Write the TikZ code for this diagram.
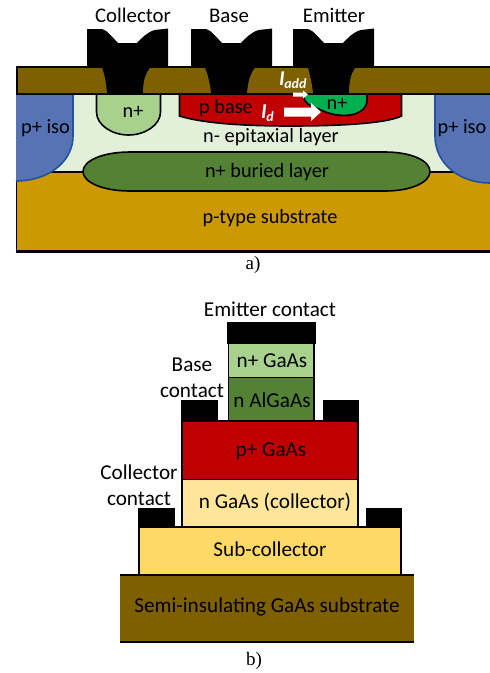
\documentclass[tikz,border=0pt]{standalone}
\usepackage{fontspec}
\setmainfont{Liberation Serif}
\newfontfamily\calfont{Carlito}
\definecolor{brownlayer}{HTML}{7F6000}
\definecolor{epi}{HTML}{E2F0D9}
\definecolor{lightgreen}{HTML}{A9D18E}
\definecolor{darkgreen}{HTML}{548235}
\definecolor{basered}{HTML}{C00000}
\definecolor{emgreen}{HTML}{00B050}
\definecolor{isoblue}{HTML}{5573B5}
\definecolor{isoedge}{HTML}{2350A0}
\definecolor{subgold}{HTML}{CC9900}
\definecolor{palegold}{HTML}{FFE699}
\definecolor{gold}{HTML}{FFD966}
\tikzset{
  lbl/.style={font=\calfont\fontsize{20.3}{24}\selectfont,text=black,inner sep=0pt,align=center},
  lbltop/.style={font=\calfont\fontsize{20.8}{24}\selectfont,text=black,inner sep=0pt,align=center},
  lblb/.style={font=\calfont\fontsize{21.2}{24}\selectfont,text=black,inner sep=0pt,align=center},
  captxt/.style={font=\fontsize{19}{22}\selectfont,inner sep=0pt},
  curlbl/.style={font=\calfont\bfseries\itshape\fontsize{21}{24}\selectfont,text=white,inner sep=0pt,anchor=base west},
  regionedge/.style={draw=black,line width=1.6pt},
  layerbox/.style={draw=black,line width=1.9pt},
  isoregion/.style={fill=isoblue,draw=isoedge,line width=1.6pt},
  whitearrow/.style={fill=white,draw=none}
}
\newcommand{\contactshape}[1]{
  \fill[black] (#1,66) -- (#1,29) -- (#1+15,29) .. controls (#1+20,30) and (#1+26,38) .. (#1+31,43) -- (#1+50,43)
   .. controls (#1+55,38) and (#1+60,32) .. (#1+68,30) -- (#1+81,28.5) -- (#1+81,66) -- cycle;
}
\begin{document}
\begin{tikzpicture}[x=1pt,y=-1pt]
\useasboundingbox (0,0) rectangle (490,673);
% ---- part a ----
\fill[epi] (16,94) rectangle (490,172);
\fill[subgold] (16,172) rectangle (490,252);
\draw[regionedge] (16,172) -- (490,172);
\draw[line width=2.2pt] (15.5,251.5) -- (490,251.5);
\draw[line width=1.5pt] (16.5,172) -- (16.5,252);
% iso regions
\draw[isoregion] (16,94) -- (73,94) -- (73,136) .. controls (73,162) and (48,181) .. (16,181);
\draw[isoregion] (490,94) -- (435,94) -- (435,136) .. controls (435,164) and (460,183) .. (490,183);
% buried
\draw[regionedge,fill=darkgreen] (130,152) -- (385,152) .. controls (412,152) and (430,161) .. (430,171.5) .. controls (430,182) and (412,191) .. (385,191) -- (130,191) .. controls (102,191) and (83,182) .. (83,171.5) .. controls (83,161) and (102,152) .. (130,152) -- cycle;
% collector n+
\draw[regionedge,fill=lightgreen] (96.5,94) -- (96.5,112) .. controls (96.5,125) and (112,135) .. (128.5,135) .. controls (145,135) and (160.5,125) .. (160.5,112) -- (160.5,94);
% p base
\draw[regionedge,fill=basered] (179.5,94) -- (179.5,116) .. controls (205,124) and (250,126) .. (290,126) .. controls (335,126) and (385,124) .. (401.5,116) -- (401.5,94);
% emitter n+
\draw[regionedge,fill=emgreen] (304,95) .. controls (303,103) and (310,106) .. (319,109) .. controls (328,114) and (338,115.5) .. (345,115.5) .. controls (357,115) and (367,110) .. (367,100) -- (367,94);
% top black band and contacts
\fill[black] (16,65.5) rectangle (490,95);
\contactshape{87}
\contactshape{191}
\contactshape{293}
% brown pads
\fill[brownlayer] (18,68) -- (102,68) .. controls (105,75) and (106,84) .. (107,93) -- (18,93) -- cycle;
\fill[brownlayer] (150,68) -- (205,68) .. controls (208,75) and (210,84) .. (211,93) -- (143,93) .. controls (143,82) and (145,74) .. (150,68) -- cycle;
\fill[brownlayer] (255,68) -- (308,68) .. controls (310,75) and (312,84) .. (313,93) -- (247,93) .. controls (248,82) and (250,74) .. (255,68) -- cycle;
\fill[brownlayer] (355,68) -- (490,68) -- (490,93) -- (349,93) .. controls (349,82) and (351,74) .. (355,68) -- cycle;
% current arrows
\fill[whitearrow] (293,92.5) -- (303,92.5) -- (303,90.5) -- (308,94.5) -- (303,98.5) -- (303,96.5) -- (293,96.5) -- cycle;
\fill[whitearrow] (284,107.5) -- (311,107.5) -- (311,103) -- (321,112) -- (311,121) -- (311,116.5) -- (284,116.5) -- cycle;
% labels a
\node[lbltop] (collector) at (133,15.5) {Collector};
\node[lbltop] (base) at (229,15.5) {Base};
\node[lbltop] (emitter) at (334,15.5) {Emitter};
\node[lbl] (ncoll) at (133,112) {n+};
\node[lbl] (pbase) at (226,108) {p base};
\node[lbl] (nem) at (337,104) {n+};
\node[lbl] (isol) at (45.5,128) {p+ iso};
\node[lbl] (isor) at (462,128) {p+ iso};
\node[lbl] (epilbl) at (271,137) {n- epitaxial layer};
\node[lbl] (buried) at (267,172) {n+ buried layer};
\node[lbl] (psub) at (270,218) {p-type substrate};
\node[curlbl] (iadd) at (279,85) {I\kern-0.5pt\raisebox{-3pt}{\fontsize{14}{16}\selectfont add}};
\node[curlbl] (id) at (261,118) {I\kern-0.5pt\raisebox{-3pt}{\fontsize{14}{16}\selectfont d}};
\node[captxt] (capa) at (253,265) {a)};
% ---- part b ----
\fill[black] (227,322) rectangle (316,344);
\draw[layerbox,fill=lightgreen] (228.5,343) rectangle (314,377.5);
\draw[layerbox,fill=darkgreen] (228.5,377.5) rectangle (314,421);
\fill[black] (181,400) rectangle (218,422);
\fill[black] (323,400) rectangle (359,422);
\draw[layerbox,fill=basered] (182,421) rectangle (358,479.5);
\draw[layerbox,fill=palegold] (182,479.5) rectangle (358,527);
\fill[black] (138,508) rectangle (175,528);
\fill[black] (366,508) rectangle (402,528);
\draw[layerbox,fill=gold] (139,527) rectangle (401,575);
\fill[brownlayer] (120,575) rectangle (414,642);
\draw[line width=2pt] (120,575) -- (414,575);
\draw[line width=2pt] (120,641.5) -- (414,641.5);
\node[lblb] (emc) at (270,309) {Emitter contact};
\node[lblb] (ngaas) at (272,361) {n+ GaAs};
\node[lblb] (algaas) at (272,400) {n AlGaAs};
\node[lblb] (bc1) at (192,365) {Base};
\node[lblb] (bc2) at (192,391) {contact};
\node[lblb] (pgaas) at (271,451) {p+ GaAs};
\node[lblb] (cc1) at (139,472) {Collector};
\node[lblb] (cc2) at (139,499) {contact};
\node[lblb] (ncol) at (275,502) {n GaAs (collector)};
\node[lblb] (subc) at (270,549) {Sub-collector};
\node[lblb] (semi) at (267,607) {Semi-insulating GaAs substrate};
\node[captxt] (capb) at (254,661) {b)};
\end{tikzpicture}
\end{document}
